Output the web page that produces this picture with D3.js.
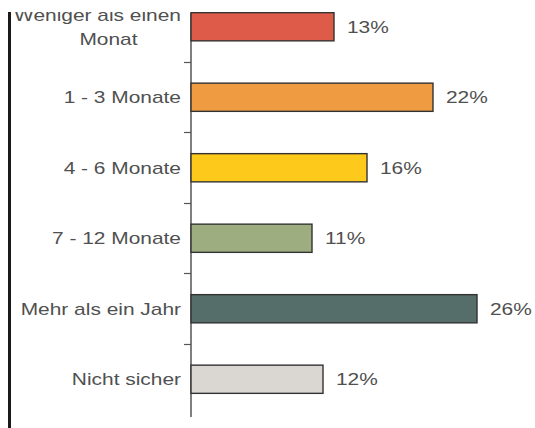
<!DOCTYPE html>
<html><head><meta charset="utf-8">
<script src="https://cdn.jsdelivr.net/npm/d3@7"></script>
<style>html,body{margin:0;padding:0;background:#fff;}svg{display:block;}</style>
</head><body>
<script>
const categories = [["Weniger als einen","Monat"],["1 - 3 Monate"],["4 - 6 Monate"],["7 - 12 Monate"],["Mehr als ein Jahr"],["Nicht sicher"]];
const values = [13, 22, 16, 11, 26, 12];
const valueLabels = ["13%","22%","16%","11%","26%","12%"];
const colors = ["#DE5B49","#EE9B42","#FDC91A","#9DAD7F","#556E69","#DAD6D1"];

const W = 535, H = 428;
const svg = d3.select("body").append("svg").attr("width", W).attr("height", H);
const keys = categories.map(c => c.join(" "));
const y = d3.scaleBand().domain(keys).range([-8.5, 414.5]).paddingInner(0.6).paddingOuter(0.3);
const x = d3.scaleLinear().domain([0, 30]).range([191, 521]);
const step = y.step();

// left frame line
svg.append("line").attr("x1", 9.5).attr("x2", 9.5).attr("y1", 0).attr("y2", H)
  .attr("stroke", "#1a1a1a").attr("stroke-width", 3);

// axis line
svg.append("line").attr("x1", x(0)).attr("x2", x(0)).attr("y1", 13).attr("y2", 417)
  .attr("stroke", "#555").attr("stroke-width", 1.5);
// ticks between categories
keys.slice(0, -1).forEach(k => {
  const ty = Math.round(y(k) + y.bandwidth() + step * 0.3) + 0.5;
  svg.append("line").attr("x1", x(0) - 7).attr("x2", x(0)).attr("y1", ty).attr("y2", ty)
    .attr("stroke", "#555").attr("stroke-width", 1.2);
});

// bars
svg.selectAll("rect.bar").data(values).enter().append("rect")
  .attr("class", "bar")
  .attr("x", x(0))
  .attr("y", (d, i) => y(keys[i]))
  .attr("width", d => x(d) - x(0))
  .attr("height", y.bandwidth())
  .attr("fill", (d, i) => colors[i])
  .attr("stroke", "#333").attr("stroke-width", 1.4);

const font = "'Liberation Sans', Arial, sans-serif";
const fs = 17, sx = 1.23;
// category labels
categories.forEach((lines, i) => {
  const cy = y(keys[i]) + y.bandwidth() / 2;
  lines.forEach((ln, j) => {
    const ly = cy + (j - (lines.length - 1) / 2) * 24 + 6;
    const multi = lines.length > 1 && j > 0;
    svg.append("text")
      .attr("transform", `translate(${multi ? 108.5 : 181},${ly}) scale(${sx},1)`)
      .attr("text-anchor", multi ? "middle" : "end")
      .attr("font-family", font).attr("font-size", fs).attr("fill", "#505050")
      .text(ln);
  });
});

// value labels
values.forEach((v, i) => {
  const cy = y(keys[i]) + y.bandwidth() / 2;
  svg.append("text")
    .attr("transform", `translate(${x(v) + 13},${cy + 6}) scale(${sx},1)`)
    .attr("font-family", font).attr("font-size", fs).attr("fill", "#505050")
    .text(valueLabels[i]);
});

// cropped top edge of the original picture
svg.append("rect").attr("x", 0).attr("y", 0).attr("width", W).attr("height", 12).attr("fill", "#fff");
</script>
</body></html>
